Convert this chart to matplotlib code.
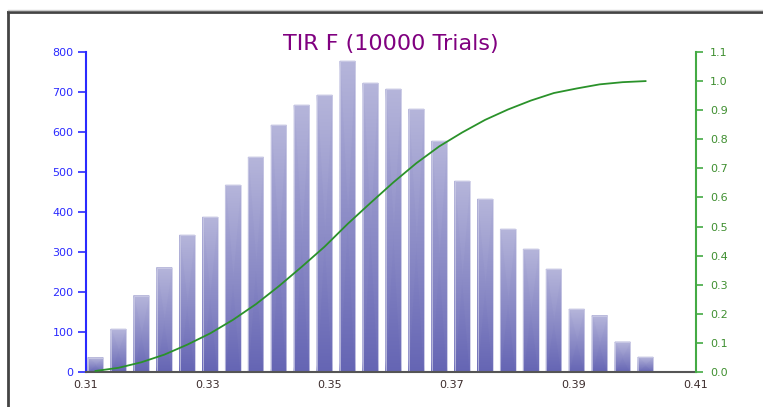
import numpy as np
import matplotlib
matplotlib.use("Agg")
import matplotlib.pyplot as plt
from matplotlib.lines import Line2D
from matplotlib.colors import LinearSegmentedColormap

# ---- data ----
title = "TIR F (10000 Trials)"
bin_start = 0.30968
bin_width = 0.003757
counts = [36, 107, 191, 261, 342, 387, 467, 537, 617, 667, 692, 777, 722,
          707, 657, 577, 477, 432, 357, 307, 257, 157, 141, 75, 37]
x_ticks = [0.31, 0.33, 0.35, 0.37, 0.39, 0.41]
left_ticks = [0, 100, 200, 300, 400, 500, 600, 700, 800]
right_ticks = [0.0, 0.1, 0.2, 0.3, 0.4, 0.5, 0.6, 0.7, 0.8, 0.9, 1.0, 1.1]

counts = np.array(counts, dtype=float)
centers = bin_start + (np.arange(len(counts)) + 0.5) * bin_width
cdf = np.cumsum(counts) / counts.sum()

W, H = 763, 407
fig = plt.figure(figsize=(W / 100, H / 100), dpi=100)
fig.patch.set_facecolor("white")

ax = fig.add_axes([86 / W, 1 - 372 / H, (696 - 86) / W, (372 - 52) / H])
ax.set_facecolor("white")

bars = ax.bar(centers, counts, width=bin_width * 0.66, color="none",
              edgecolor="#cfcfe8", linewidth=0.5, zorder=3)

# vertical gradient fill for each bar (gouraud shaded quad)
cmap = LinearSegmentedColormap.from_list("barg", ["#6464b3", "#b5b5da"])
for b in bars:
    x0, y0 = b.get_x(), b.get_y()
    w, h = b.get_width(), b.get_height()
    X = np.array([[x0, x0 + w], [x0, x0 + w]])
    Y = np.array([[y0, y0], [y0 + h, y0 + h]])
    C = np.array([[0.0, 0.0], [1.0, 1.0]])
    ax.pcolormesh(X, Y, C, shading="gouraud", cmap=cmap, vmin=0, vmax=1,
                  zorder=1)

ax.set_xlim(0.31, 0.41)
ax.set_ylim(0, 800)
ax.set_xticks(x_ticks)
ax.set_xticklabels([f"{t:.2f}" for t in x_ticks], fontsize=8, color="#3c2c2c")
ax.set_yticks(left_ticks)
ax.set_yticklabels([str(t) for t in left_ticks], fontsize=8, color="#2a2aff")
ax.tick_params(axis="x", length=0, pad=6)
ax.tick_params(axis="y", direction="out", length=6, width=1.2,
               color="#2a2aff", pad=3)

for s in ["top", "right"]:
    ax.spines[s].set_visible(False)
ax.spines["left"].set_color("#2a2aff")
ax.spines["left"].set_linewidth(1.5)
ax.spines["bottom"].set_color("#555555")
ax.spines["bottom"].set_linewidth(1.5)
ax.spines["bottom"].set_zorder(5)

ax2 = ax.twinx()
ax2.plot(centers, cdf, color="#2a922a", linewidth=1.3)
ax2.set_ylim(0, 1.1)
ax2.set_yticks(right_ticks)
ax2.set_yticklabels([f"{t:.1f}" for t in right_ticks], fontsize=8,
                    color="#3f8f30")
ax2.tick_params(axis="y", direction="out", length=5, width=1.2,
                color="#44aa44", pad=5)
for s in ["top", "left", "bottom"]:
    ax2.spines[s].set_visible(False)
ax2.spines["right"].set_color("#44aa44")
ax2.spines["right"].set_linewidth(1.5)

fig.text((86 + 696) / 2 / W, 1 - 50 / H, title, ha="center", va="baseline",
         fontsize=16, color="#800080")

# outer frame lines
fig.add_artist(Line2D([7.5 / W, 7.5 / W], [0, 1 - 12 / H], transform=fig.transFigure,
                      color="#444444", linewidth=2))
fig.add_artist(Line2D([7.5 / W, 1], [1 - 12 / H, 1 - 12 / H], transform=fig.transFigure,
                      color="#444444", linewidth=2))
fig.add_artist(Line2D([7.5 / W, 1], [1 - 9.5 / H, 1 - 9.5 / H], transform=fig.transFigure,
                      color="#cccccc", linewidth=1))

fig.savefig("out.png", dpi=100, facecolor="white")
